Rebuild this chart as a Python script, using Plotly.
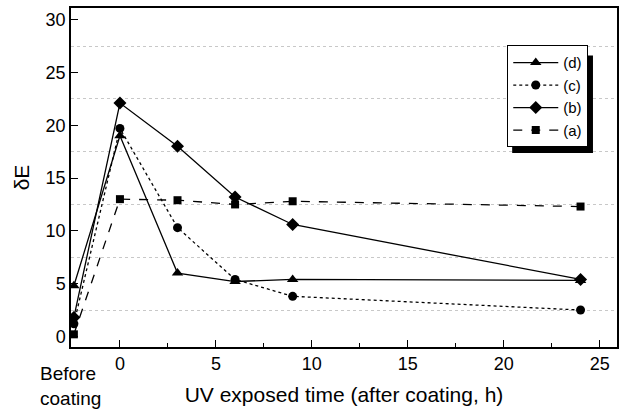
import plotly.graph_objects as go

# Data
x_before = -2.4
times = [x_before, 0, 3, 6, 9, 24]
series_names = ["(d)", "(c)", "(b)", "(a)"]
d_vals = [4.8, 19.0, 6.0, 5.2, 5.4, 5.3]
c_vals = [1.2, 19.7, 10.3, 5.4, 3.8, 2.5]
b_vals = [1.8, 22.1, 18.0, 13.2, 10.6, 5.4]
a_vals = [0.2, 13.0, 12.9, 12.5, 12.8, 12.3]

styles = [
    ("(d)", d_vals, "solid", "triangle-up", 10),
    ("(c)", c_vals, "dot", "circle", 9),
    ("(b)", b_vals, "solid", "diamond", 10),
    ("(a)", a_vals, "dash", "square", 8),
]

fig = go.Figure()
for name, vals, dash, sym, ms in styles:
    fig.add_trace(go.Scatter(
        x=times, y=vals, name=name, mode="lines+markers",
        line=dict(color="black", width=1.3, dash=dash),
        marker=dict(symbol=sym, size=ms, color="black"),
    ))

font_family = "Liberation Sans, Arial, sans-serif"

fig.update_layout(
    width=625, height=409,
    margin=dict(l=71, r=8, t=6, b=62),
    paper_bgcolor="white", plot_bgcolor="white",
    font=dict(family=font_family, size=18, color="black"),
    showlegend=True,
    legend=dict(
        x=0.799, y=0.89, xanchor="left", yanchor="top",
        bgcolor="white", bordercolor="black", borderwidth=1,
        font=dict(size=15), tracegroupgap=0, itemwidth=45,
    ),
    xaxis=dict(
        range=[-2.55, 25.9], tickmode="linear", tick0=0, dtick=5,
        ticks="inside", ticklen=7, tickwidth=1.3, tickcolor="black",
        showline=True, linecolor="black", linewidth=1.5, mirror=True,
        showgrid=False, zeroline=False,
        minor=dict(ticks="inside", ticklen=4, dtick=2.5, tick0=0,
                   tickcolor="black", showgrid=False),
        title=dict(text="UV exposed time (after coating, h)",
                   font=dict(size=21), standoff=14),
        tickfont=dict(size=18),
    ),
    yaxis=dict(
        range=[-1, 31.1], tickmode="linear", tick0=0, dtick=5,
        ticks="inside", ticklen=7, tickwidth=1.3, tickcolor="black",
        showline=True, linecolor="black", linewidth=1.5, mirror=True,
        showgrid=False, zeroline=False,
        minor=dict(ticks="", dtick=2.5, tick0=0, showgrid=True,
                   gridcolor="#c8c8c8", griddash="dot", gridwidth=1),
        title=dict(text="δE", font=dict(size=21), standoff=10),
        tickfont=dict(size=18),
    ),
)

# legend shadow (offset down-right from legend box)
fig.add_shape(type="rect", xref="paper", yref="paper",
              x0=0.808, x1=0.956, y0=0.572, y1=0.86,
              fillcolor="black", line=dict(width=0), layer="above")

fig.add_annotation(text="Before<br>coating", xref="paper", yref="paper",
                   x=-0.06, y=-0.04, xanchor="left", yanchor="top",
                   showarrow=False, align="left",
                   font=dict(size=19, family=font_family))

fig.write_html("out.html")
